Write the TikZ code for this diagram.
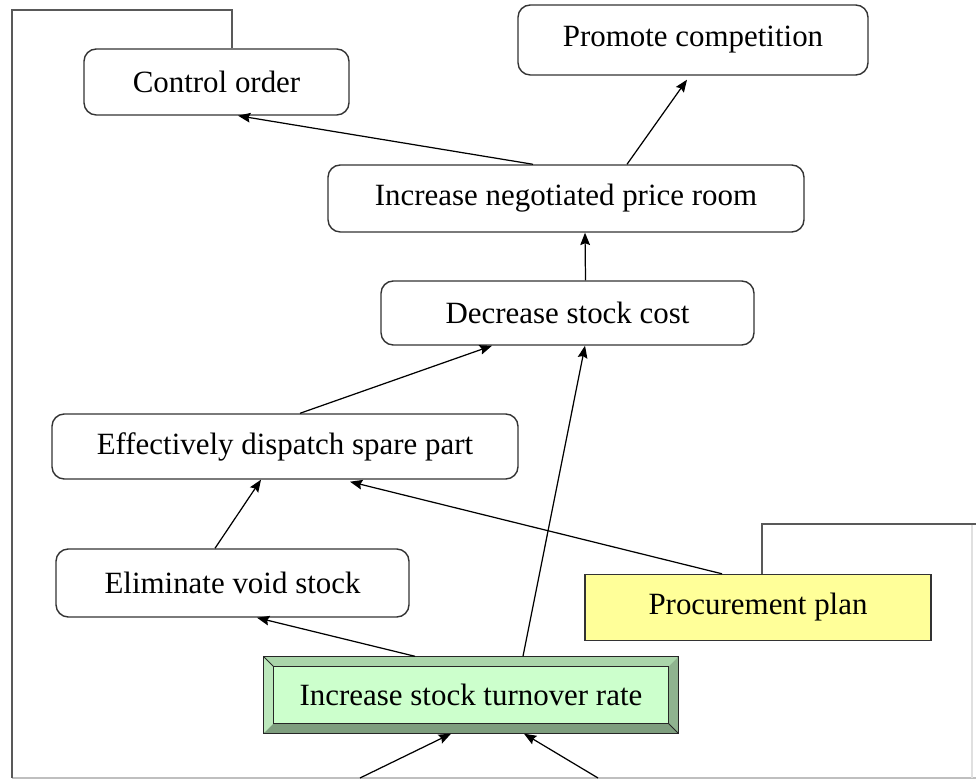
\documentclass[tikz,border=0pt]{standalone}
\usepackage{fontspec}
\setmainfont{Liberation Serif}
\usetikzlibrary{arrows.meta}
\definecolor{facegreen}{HTML}{CCFFCC}
\definecolor{bevtop}{HTML}{AAD6AA}
\definecolor{bevleft}{HTML}{BCE8BC}
\definecolor{bevright}{HTML}{8FB38F}
\definecolor{bevbottom}{HTML}{7E9E7E}
\definecolor{planyellow}{HTML}{FFFF99}
\tikzset{
  goal/.style={draw=black!80,line width=0.8pt,rounded corners=7pt,fill=white,
    font=\fontsize{17.6}{20}\selectfont,inner sep=0pt},
  plainbox/.style={draw=black!80,line width=0.8pt,fill=planyellow,
    font=\fontsize{17.6}{20}\selectfont,inner sep=0pt},
  arr/.style={->,>={Stealth[length=7pt,width=5.5pt,inset=1pt]},line width=0.7pt},
  frameline/.style={draw=black!65,line width=1pt},
}
\begin{document}
\begin{tikzpicture}
  \useasboundingbox (0,0) rectangle (19.52,-15.60);
  % frame lines
  \draw[black!25,line width=0.8pt] (0.24,-15.56) -- (19.52,-15.56);
  \draw[black!12,line width=0.8pt] (19.44,-10.48) -- (19.44,-15.56);
  % boxes
  \node[goal,minimum width=5.30cm,minimum height=1.32cm] (order) at (4.33,-1.64) {Control order};
  \node[goal,minimum width=7.00cm,minimum height=1.40cm] (promote) at (13.86,-0.80) {Promote competition};
  \node[goal,minimum width=9.52cm,minimum height=1.34cm] (price) at (11.32,-3.97) {Increase negotiated price room};
  \node[goal,minimum width=7.46cm,minimum height=1.28cm] (cost) at (11.35,-6.26) {Decrease stock cost};
  \node[goal,minimum width=9.32cm,minimum height=1.30cm] (dispatch) at (5.70,-8.93) {Effectively dispatch spare part};
  \node[goal,minimum width=7.06cm,minimum height=1.36cm] (void) at (4.65,-11.66) {Eliminate void stock};
  \node[plainbox,minimum width=6.92cm,minimum height=1.32cm] (plan) at (15.16,-12.15) {Procurement plan};
  \node[draw=black!85,line width=0.8pt,fill=facegreen,minimum width=8.28cm,minimum height=1.52cm,
    font=\fontsize{17.6}{20}\selectfont,inner sep=0pt] (turnover) at (9.42,-13.90) {Increase stock turnover rate};
  % bevel of the turnover box
  \fill[bevtop] (turnover.north west) -- (turnover.north east) -- ([shift={(-0.2,-0.2)}]turnover.north east) -- ([shift={(0.2,-0.2)}]turnover.north west) -- cycle;
  \fill[bevleft] (turnover.north west) -- ([shift={(0.2,-0.2)}]turnover.north west) -- ([shift={(0.2,0.2)}]turnover.south west) -- (turnover.south west) -- cycle;
  \fill[bevright] (turnover.north east) -- (turnover.south east) -- ([shift={(-0.2,0.2)}]turnover.south east) -- ([shift={(-0.2,-0.2)}]turnover.north east) -- cycle;
  \fill[bevbottom] (turnover.south west) -- ([shift={(0.2,0.2)}]turnover.south west) -- ([shift={(-0.2,0.2)}]turnover.south east) -- (turnover.south east) -- cycle;
  \draw[black!85,line width=0.8pt] (turnover.north west) rectangle (turnover.south east);
  \draw[black!85,line width=0.8pt] ([shift={(0.2,-0.2)}]turnover.north west) rectangle ([shift={(-0.2,0.2)}]turnover.south east);
  \draw[black!85,line width=0.5pt] (turnover.north west) -- ([shift={(0.2,-0.2)}]turnover.north west)
    (turnover.south east) -- ([shift={(-0.2,0.2)}]turnover.south east);
  % outer lines into the order and plan boxes
  \draw[frameline] ([xshift=0.31cm]order.north) |- (0.24,-0.20) -- (0.24,-15.56);
  \draw[frameline] ([xshift=0.08cm]plan.north) |- (19.52,-10.48);
  % links
  \draw[arr] ([xshift=-0.66cm]price.north) -- ([xshift=0.43cm]order.south);
  \draw[arr] ([xshift=1.22cm]price.north) -- ([xshift=-0.12cm,yshift=-0.08cm]promote.south);
  \draw[arr] ([xshift=0.36cm]cost.north) -- ([xshift=0.38cm]price.south);
  \draw[arr] ([xshift=0.30cm]dispatch.north) -- ([xshift=-1.51cm]cost.south);
  \draw[arr] ([xshift=1.04cm]turnover.north) -- ([xshift=0.35cm]cost.south);
  \draw[arr] ([xshift=-0.35cm]void.north) -- ([xshift=-0.48cm]dispatch.south);
  \draw[arr] ([xshift=-0.72cm]plan.north) -- ([xshift=1.30cm,yshift=-0.04cm]dispatch.south);
  \draw[arr] ([xshift=-1.12cm]turnover.north) -- ([xshift=0.49cm]void.south);
  \coordinate (inA) at (7.20,-15.56);
  \coordinate (inB) at (11.96,-15.56);
  \draw[arr] (inA) -- ([xshift=-0.40cm]turnover.south);
  \draw[arr] (inB) -- ([xshift=1.06cm]turnover.south);
\end{tikzpicture}
\end{document}
